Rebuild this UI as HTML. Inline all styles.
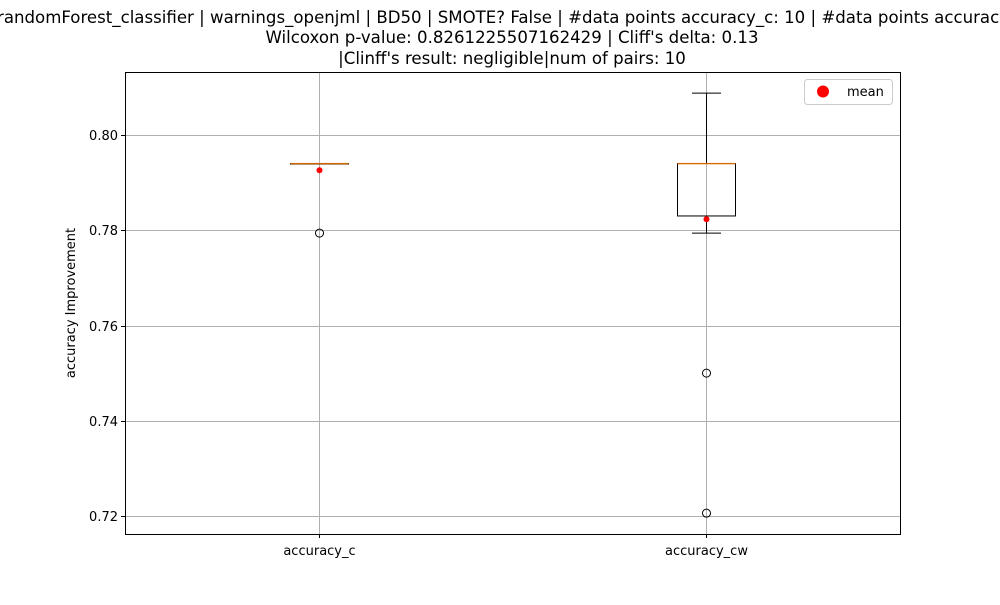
<!DOCTYPE html>
<html><head><meta charset="utf-8"><style>
body{margin:0;background:#fff;}
svg{font-family:"DejaVu Sans","Liberation Sans",sans-serif;}
</style></head><body>
<svg width="1000" height="600">
<rect width="1000" height="600" fill="#fff"/>
<g font-size="16.6" text-anchor="middle" fill="#000">
<text x="-3" y="23" text-anchor="start">randomForest_classifier | warnings_openjml | BD50 | SMOTE? False | #data points accuracy_c: 10 | #data points accuracy_cw: 10</text>
<text x="512" y="43">Wilcoxon p-value: 0.8261225507162429 | Cliff's delta: 0.13</text>
<text x="512" y="64">|Clinff's result: negligible|num of pairs: 10</text>
</g>
<g id="grid"></g>
<g id="marks"></g>
<rect x="125.5" y="72.5" width="775" height="462" fill="none" stroke="#000"/>
<g id="axes" font-size="13"></g>
<text transform="translate(75,303) rotate(-90)" text-anchor="middle" font-size="13">accuracy Improvement</text>
<g>
<rect x="804.5" y="79.5" width="88" height="25" rx="3" fill="#fff" stroke="#ccc"/>
<circle cx="823" cy="91.5" r="6" fill="red"/>
<text x="847" y="96" font-size="13">mean</text>
</g>
</svg>
<script>
const categories=["accuracy_c","accuracy_cw"];
const q1=[0.794,0.783];
const q3=[0.794,0.794];
const medians=[0.794,0.794];
const whiskLo=[0.794,0.7794];
const whiskHi=[0.794,0.8088];
const means=[0.7926,0.7823];
const outliers=[[0.7794],[0.750,0.7206]];
const yTicks=[0.72,0.74,0.76,0.78,0.80];
const NS="http://www.w3.org/2000/svg";
function y(v){return 135+(0.80-v)/0.02*95.25;}
function x(i){return 319+i*387;}
function mk(p,tag,at){const e=document.createElementNS(NS,tag);for(const k in at)e.setAttribute(k,at[k]);p.appendChild(e);return e;}
const grid=document.getElementById('grid'),marks=document.getElementById('marks'),axes=document.getElementById('axes');
yTicks.forEach(t=>{
 const yy=Math.round(y(t))+0.5;
 const g=mk(grid,'line',{x1:125,x2:900,y1:yy,y2:yy,stroke:'#b0b0b0','stroke-width':1});
 
 
 mk(axes,'line',{x1:121,x2:125,y1:yy,y2:yy,stroke:'#000'});
 const tx=mk(axes,'text',{x:118,y:yy+4.5,'text-anchor':'end'});tx.textContent=t.toFixed(2);
 
 
});
categories.forEach((c,i)=>{
 const cx=x(i)+0.5;
 const g=mk(grid,'line',{x1:cx,x2:cx,y1:72,y2:534,stroke:'#b0b0b0'});
 
 
 mk(axes,'line',{x1:cx,x2:cx,y1:534,y2:538,stroke:'#000'});
 const tx=mk(axes,'text',{x:cx,y:555,'text-anchor':'middle'});tx.textContent=c;
 
 
 const b=mk(marks,'g',{});
 
 
 mk(b,'line',{x1:cx,x2:cx,y1:y(whiskHi[i]),y2:y(q3[i]),stroke:'#000'});
 mk(b,'line',{x1:cx,x2:cx,y1:y(q1[i]),y2:y(whiskLo[i]),stroke:'#000'});
 mk(b,'line',{x1:cx-14.5,x2:cx+14.5,y1:y(whiskHi[i]),y2:y(whiskHi[i]),stroke:'#000'});
 mk(b,'line',{x1:cx-14.5,x2:cx+14.5,y1:y(whiskLo[i]),y2:y(whiskLo[i]),stroke:'#000'});
 mk(b,'rect',{x:cx-29,y:y(q3[i]),width:58,height:Math.max(0.5,y(q1[i])-y(q3[i])),fill:'none',stroke:'#000'});
 mk(b,'line',{x1:cx-29,x2:cx+29,y1:y(medians[i]),y2:y(medians[i]),stroke:'#ff7f0e','stroke-width':1.5,'stroke-opacity':0.8});
 outliers[i].forEach(o=>{const oc=mk(b,'circle',{cx:cx,cy:y(o),r:4,fill:'none',stroke:'#000'});
  
  });
 const m=mk(b,'circle',{cx:cx,cy:y(means[i]),r:3,fill:'red'});
 
 
});
</script>
</body></html>
